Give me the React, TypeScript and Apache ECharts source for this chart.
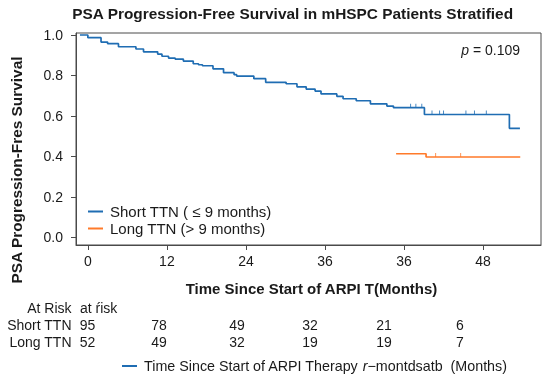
import React, { useEffect, useRef } from 'react';
import * as echarts from 'echarts';

const xTickValues = [0, 12, 24, 36, 48, 60];
const xTickLabels = ['0', '12', '24', '36', '36', '48'];
const yTickValues = [0, 0.2, 0.4, 0.6, 0.8, 1.0];

const shortMonths = [-1.2, 0, 2.0, 3.0, 4.65, 7.3, 8.45, 10.6, 11.25, 12.25, 13.25, 14.5, 16.0, 16.8, 17.4, 19.0, 20.6, 22.2, 22.6, 25.2, 27.0, 30.1, 31.75, 33.15, 34.5, 35.4, 37.8, 38.75, 40.75, 42.9, 45.4, 46.4, 51.1, 64.0, 65.6];
const shortSurv = [1.0, 0.987, 0.965, 0.957, 0.942, 0.931, 0.917, 0.906, 0.895, 0.886, 0.881, 0.871, 0.858, 0.853, 0.848, 0.833, 0.814, 0.804, 0.797, 0.784, 0.766, 0.759, 0.744, 0.733, 0.723, 0.709, 0.697, 0.685, 0.675, 0.66, 0.649, 0.641, 0.607, 0.539, 0.539];
const longMonths = [46.8, 51.35, 65.65];
const longSurv = [0.413, 0.397, 0.397];

const shortCensorMonths = [49.0, 49.8, 50.7, 52.25, 53.4, 54.0, 57.4, 58.7, 60.5];
const shortCensorSurv = [0.641, 0.641, 0.641, 0.607, 0.607, 0.607, 0.607, 0.607, 0.607];
const longCensorMonths = [52.8, 56.6];
const longCensorSurv = [0.397, 0.397];

const riskRowLabels = ['Short TTN', 'Long TTN'];
const shortAtRisk = [95, 78, 49, 32, 21, 6];
const longAtRisk = [52, 49, 32, 19, 19, 7];

const BLUE = '#1f6db3';
const ORANGE = '#ff7a2a';
const TXT = '#1a1a1a';
const FONT = '"Liberation Sans", Arial, sans-serif';

export default function App() {
  const ref = useRef<HTMLDivElement>(null);
  useEffect(() => {
    if (!ref.current) return;
    const chart = echarts.init(ref.current, undefined, { renderer: 'svg' });
    const colX = [87.5, 159, 237, 310, 384, 460];
    const tableTexts: any[] = [];
    tableTexts.push({ type: 'text', x: 71.5, y: 308, style: { text: 'At Risk', font: `14px ${FONT}`, fill: TXT, align: 'right', verticalAlign: 'middle' } });
    tableTexts.push({ type: 'text', x: 80, y: 308, style: { text: 'at ŕisk', font: `14px ${FONT}`, fill: TXT, align: 'left', verticalAlign: 'middle' } });
    [shortAtRisk, longAtRisk].forEach((row, r) => {
      const y = r === 0 ? 325 : 341.5;
      tableTexts.push({ type: 'text', x: 71.5, y, style: { text: riskRowLabels[r], font: `14px ${FONT}`, fill: TXT, align: 'right', verticalAlign: 'middle' } });
      row.forEach((v, i) => {
        tableTexts.push({ type: 'text', x: colX[i], y, style: { text: String(v), font: `14px ${FONT}`, fill: TXT, align: 'center', verticalAlign: 'middle' } });
      });
    });

    chart.setOption({
      animation: false,
      grid: { left: 76, top: 33, right: 9, bottom: 137, show: true, borderColor: '#4a4a4a', borderWidth: 1 },
      xAxis: {
        type: 'value', min: -1.8, max: 68.8,
        axisLine: { show: true, onZero: false, lineStyle: { color: '#4a4a4a', width: 1 } },
        axisTick: { show: true, customValues: xTickValues, length: 5, lineStyle: { color: '#4a4a4a' } },
        axisLabel: { customValues: xTickValues, margin: 9, fontSize: 14, color: TXT, fontFamily: FONT,
          formatter: (v: number) => { const i = xTickValues.indexOf(v); return i >= 0 ? xTickLabels[i] : ''; } },
        splitLine: { show: false },
      },
      yAxis: {
        type: 'value', min: -0.038, max: 1.01,
        axisLine: { show: true, onZero: false, lineStyle: { color: '#4a4a4a', width: 1 } },
        axisTick: { show: true, customValues: yTickValues, length: 5, lineStyle: { color: '#4a4a4a' } },
        axisLabel: { customValues: yTickValues, margin: 13, fontSize: 14, color: TXT, fontFamily: FONT,
          formatter: (v: number) => v.toFixed(1) },
        splitLine: { show: false },
      },
      legend: {
        data: ['Short TTN ( ≤ 9 months)', 'Long TTN (> 9 months)'],
        orient: 'vertical', left: 83, top: 199, icon: 'rect', itemWidth: 15, itemHeight: 2, itemGap: 2,
        itemStyle: { borderWidth: 0 },
        textStyle: { fontSize: 15, color: TXT, fontFamily: FONT, padding: [0, 0, 0, 2] },
      },
      series: [
        { name: 'Short TTN ( ≤ 9 months)', type: 'line', step: 'end', showSymbol: false, color: BLUE,
          lineStyle: { width: 1.7, color: BLUE }, data: shortMonths.map((m, i) => [m, shortSurv[i]]) },
        { name: 'Long TTN (> 9 months)', type: 'line', step: 'end', showSymbol: false, color: ORANGE,
          lineStyle: { width: 1.7, color: ORANGE }, data: longMonths.map((m, i) => [m, longSurv[i]]) },
        { name: 'shortCensor', type: 'scatter', symbol: 'rect', symbolSize: [1, 4], symbolOffset: [0, -2],
          itemStyle: { color: BLUE }, data: shortCensorMonths.map((m, i) => [m, shortCensorSurv[i]]) },
        { name: 'longCensor', type: 'scatter', symbol: 'rect', symbolSize: [1, 4], symbolOffset: [0, -2],
          itemStyle: { color: ORANGE }, data: longCensorMonths.map((m, i) => [m, longCensorSurv[i]]) },
      ],
      graphic: [
        { type: 'text', x: 292.7, y: 13.5, style: { text: 'PSA Progression-Free Survival in mHSPC Patients Stratified', font: `bold 15.4px ${FONT}`, fill: TXT, align: 'center', verticalAlign: 'middle' } },
        { type: 'text', x: 520, y: 49.5, style: { text: '{i|p} = 0.109', font: `14px ${FONT}`, fill: TXT, align: 'right', verticalAlign: 'middle',
          rich: { i: { fontStyle: 'italic', fontSize: 14, fontFamily: FONT, fill: TXT } } } },
        { type: 'text', x: 311.5, y: 288, style: { text: 'Time Since Start of ARPI T(Months)', font: `bold 15px ${FONT}`, fill: TXT, align: 'center', verticalAlign: 'middle' } },
        { type: 'text', x: 16, y: 170, rotation: Math.PI / 2, style: { text: 'PSA Progression-Fres Survival', font: `bold 15.4px ${FONT}`, fill: TXT, align: 'center', verticalAlign: 'middle' } },
        ...tableTexts,
        { type: 'line', shape: { x1: 122, y1: 366, x2: 137, y2: 366 }, style: { stroke: BLUE, lineWidth: 2 } },
        { type: 'text', x: 144, y: 366, style: { text: 'Time Since Start of ARPI Therapy {i|r}−montdsatb  (Months)', font: `14.3px ${FONT}`, fill: TXT, align: 'left', verticalAlign: 'middle',
          rich: { i: { fontStyle: 'italic', fontSize: 14.3, fontFamily: FONT, fill: TXT } } } },
      ],
    });
    return () => chart.dispose();
  }, []);
  return <div ref={ref} style={{ width: 550, height: 382, position: 'fixed', left: 0, top: 0 }} />;
}
